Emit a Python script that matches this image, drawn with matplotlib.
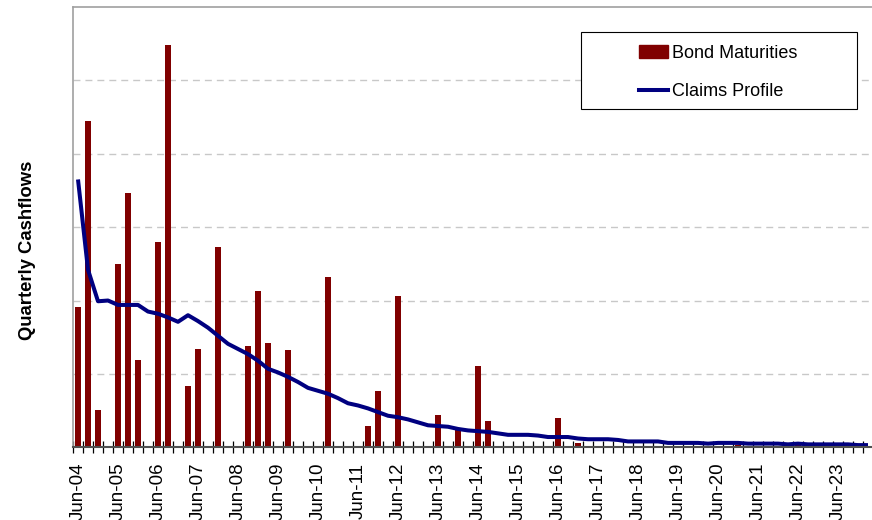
import matplotlib
matplotlib.use("Agg")
import matplotlib.pyplot as plt
from matplotlib.patches import Rectangle
from matplotlib.lines import Line2D

plt.rcParams['font.family'] = ['Liberation Sans', 'DejaVu Sans']

# quarter labels Jun-04 .. Mar-24
months = ['Jun', 'Sep', 'Dec', 'Mar']
quarters = []
for i in range(80):
    yr = 4 + (i + 1) // 4 if i % 4 == 3 else 4 + i // 4
    quarters.append('%s-%02d' % (months[i % 4], yr))

# bond maturities (grid units), zero where no bar
bonds = [1.91, 4.45, 0.51, 0, 2.50, 3.47, 1.19, 0, 2.80, 5.48,
         0, 0.84, 1.34, 0, 2.73, 0, 0, 1.38, 2.13, 1.42,
         0, 1.33, 0, 0, 0, 2.32, 0, 0, 0, 0.29,
         0.77, 0, 2.06, 0, 0, 0, 0.44, 0, 0.26, 0,
         1.11, 0.36, 0, 0, 0, 0, 0, 0, 0.40, 0,
         0.06, 0, 0, 0, 0, 0, 0, 0.02, 0, 0,
         0, 0, 0, 0, 0, 0, 0.03, 0, 0, 0,
         0, 0, 0.07, 0, 0, 0, 0, 0, 0, 0]

claims = [3.65, 2.42, 1.99, 2.00, 1.94, 1.94, 1.94, 1.85, 1.82, 1.77,
          1.71, 1.80, 1.72, 1.63, 1.52, 1.41, 1.34, 1.27, 1.18, 1.07,
          1.02, 0.96, 0.89, 0.81, 0.77, 0.73, 0.67, 0.60, 0.57, 0.53,
          0.48, 0.43, 0.41, 0.38, 0.34, 0.30, 0.29, 0.28, 0.25, 0.23,
          0.22, 0.21, 0.19, 0.17, 0.17, 0.17, 0.16, 0.14, 0.14, 0.14,
          0.12, 0.11, 0.11, 0.11, 0.10, 0.08, 0.08, 0.08, 0.08, 0.06,
          0.06, 0.06, 0.06, 0.05, 0.06, 0.06, 0.06, 0.05, 0.05, 0.05,
          0.05, 0.04, 0.05, 0.04, 0.04, 0.04, 0.04, 0.04, 0.03, 0.03]

W, H = 872, 520
fig = plt.figure(figsize=(W / 100, H / 100), dpi=100)
ax = fig.add_axes([73 / W, 1 - 447.3 / H, 800 / W, 440.3 / H])

x = list(range(len(quarters)))
ax.bar(x, bonds, width=0.58, color='#800000', zorder=2)
ax.plot(x, claims, color='#000080', lw=2.9, zorder=3, solid_capstyle='butt')

ax.set_xlim(-0.5, 79.5)
ax.set_ylim(0, 6)
ax.set_yticks([1, 2, 3, 4, 5])
ax.yaxis.grid(True, color='#c8c8c8', lw=1.0, ls=(0, (5, 3.6)))
ax.tick_params(axis='y', length=0, labelleft=False)

ax.set_xticks(x[::4])
ax.set_xticklabels(quarters[::4], rotation=90, fontsize=13.5)
ax.tick_params(axis='x', length=0, pad=11)
ax.set_xticks([i - 0.5 for i in range(81)], minor=True)
ax.tick_params(axis='x', which='minor', direction='inout', length=8.5,
               width=0.9, color='black')

ax.spines['left'].set_color('#a0a0a0')
ax.spines['left'].set_linewidth(1.2)
ax.spines['top'].set_color('#a0a0a0')
ax.spines['top'].set_linewidth(1.2)
ax.spines['right'].set_visible(False)
ax.spines['bottom'].set_color('#505050')
ax.spines['bottom'].set_linewidth(1.5)
ax.spines['bottom'].set_zorder(4)

fig.text(27 / W, 1 - 250 / H, 'Quarterly Cashflows', rotation=90,
         fontsize=13.3, fontweight='bold', ha='center', va='center')

# legend box
fig.patches.append(Rectangle((581 / W, 1 - 109 / H), 276 / W, 77 / H,
                             transform=fig.transFigure, fill=True,
                             facecolor='white', edgecolor='black', lw=0.8,
                             zorder=5))
handles = [Rectangle((0, 0), 1, 1, color='#800000'),
           Line2D([], [], color='#000080', lw=2.9)]
fig.legend(handles, ['Bond Maturities', 'Claims Profile'], loc='center',
           bbox_to_anchor=(718 / W, 1 - 72.5 / H), frameon=False,
           fontsize=13, handlelength=1.65, handletextpad=0.2,
           labelspacing=1.18, handleheight=0.7)

fig.savefig('out.png', dpi=100)
